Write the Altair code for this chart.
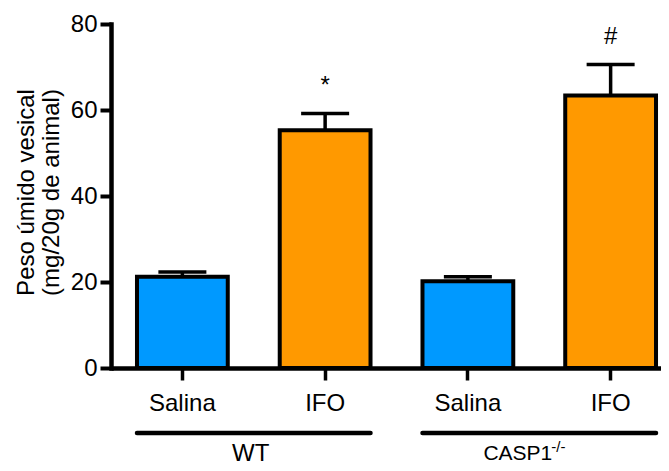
import altair as alt
import pandas as pd

# ---- data ----
categories = ["WT|Salina", "WT|IFO", "CASP1|Salina", "CASP1|IFO"]
treatments = ["Salina", "IFO", "Salina", "IFO"]
means = [21.2, 55.3, 20.2, 63.4]
errors = [1.1, 3.9, 1.0, 7.2]
signif = ["", "*", "", "#"]

group_names = ["WT", "CASP1"]
group_first = ["WT|Salina", "CASP1|Salina"]
group_last = ["WT|IFO", "CASP1|IFO"]
group_sup = ["", "-/-"]

treat_domain = ["Salina", "IFO"]
treat_colors = ["#0099FF", "#FF9900"]
y_ticks = [0, 20, 40, 60, 80]

FONT = "Liberation Sans, Arial, Helvetica, sans-serif"

df = pd.DataFrame({
    "cat": categories,
    "treat": treatments,
    "mean": means,
    "err": errors,
    "sig": signif,
})
df["top"] = df["mean"] + df["err"]

gdf = pd.DataFrame({
    "group": group_names,
    "first": group_first,
    "last": group_last,
    "sup": group_sup,
})

xscale = alt.Scale(domain=categories, range=[0, 571],
                   paddingInner=0.364, paddingOuter=0.182)
xaxis = alt.Axis(title=None, labelExpr="split(datum.value, '|')[1]",
                 labelFont=FONT, labelFontSize=24, labelColor="black",
                 labelBaseline="alphabetic", labelPadding=30, labelAngle=0,
                 tickSize=12, tickWidth=3.5, tickColor="black",
                 domainColor="black", domainWidth=4.5, grid=False,
                 labelOverlap=False)
yscale = alt.Scale(domain=[0, 80], nice=False, zero=True)
yaxis = alt.Axis(values=y_ticks, title=["Peso úmido vesical", "(mg/20g de animal)"],
                 titleFont=FONT, titleFontSize=24, titleFontWeight="normal",
                 titleColor="black", titleAngle=270, titleAlign="center",
                 titleBaseline="alphabetic", titleLineHeight=25,
                 titleX=-78, titleY=168,
                 labelFont=FONT, labelFontSize=24, labelColor="black",
                 labelPadding=3, tickSize=11, tickWidth=4, tickColor="black",
                 domainColor="black", domainWidth=4.5, domainCap="square",
                 grid=False)

base = alt.Chart(df)

bars = base.mark_bar(stroke="black", strokeWidth=4).encode(
    x=alt.X("cat:N", scale=xscale, axis=xaxis, sort=categories),
    y=alt.Y("mean:Q", scale=yscale, axis=yaxis),
    color=alt.Color("treat:N", scale=alt.Scale(domain=treat_domain, range=treat_colors), legend=None),
)

err_rule = base.mark_rule(color="black", strokeWidth=3.5).encode(
    x=alt.X("cat:N", scale=xscale, axis=xaxis, sort=categories),
    y=alt.Y("mean:Q", scale=yscale, axis=yaxis),
    y2="top:Q",
)

err_cap = base.mark_tick(color="black", size=48, thickness=3.5, opacity=1).encode(
    x=alt.X("cat:N", scale=xscale, axis=xaxis, sort=categories),
    y=alt.Y("top:Q", scale=yscale, axis=yaxis),
)

sig_text = base.mark_text(font=FONT, fontSize=24, color="black",
                          baseline="alphabetic", dy=-20).encode(
    x=alt.X("cat:N", scale=xscale, axis=xaxis, sort=categories),
    y=alt.Y("top:Q", scale=yscale, axis=yaxis),
    text="sig:N",
)

gbase = alt.Chart(gdf)

group_lines = gbase.mark_rule(color="black", strokeWidth=4.5, strokeCap="round").encode(
    x=alt.X("first:N", scale=xscale, axis=xaxis, sort=categories, bandPosition=0),
    x2=alt.X2("last:N", bandPosition=1),
    y=alt.value(409),
)

wt_label = gbase.transform_filter("datum.group == 'WT'").mark_text(
    font=FONT, fontSize=24, color="black", align="center",
    baseline="alphabetic", dx=23).encode(
    x=alt.X("first:N", scale=xscale, axis=xaxis, sort=categories, bandPosition=1),
    y=alt.value(437),
    text="group:N",
)

casp_label = gbase.transform_filter("datum.group == 'CASP1'").mark_text(
    font=FONT, fontSize=21, color="black", align="right",
    baseline="alphabetic", dx=39).encode(
    x=alt.X("first:N", scale=xscale, axis=xaxis, sort=categories, bandPosition=1),
    y=alt.value(436),
    text="group:N",
)

casp_sup = gbase.transform_filter("datum.group == 'CASP1'").mark_text(
    font=FONT, fontSize=15, color="black", align="left",
    baseline="alphabetic", dx=38).encode(
    x=alt.X("first:N", scale=xscale, axis=xaxis, sort=categories, bandPosition=1),
    y=alt.value(427.5),
    text="sup:N",
)

chart = alt.layer(
    bars, err_rule, err_cap, sig_text, group_lines, wt_label, casp_label, casp_sup
).properties(
    width=550, height=344,
    background="white",
    autosize=alt.AutoSizeParams(type="none"),
    padding={"left": 103, "top": 16, "right": 0, "bottom": 95},
).configure_view(stroke=None)

chart.save("out.html", embed_options={"renderer": "svg", "actions": False})
